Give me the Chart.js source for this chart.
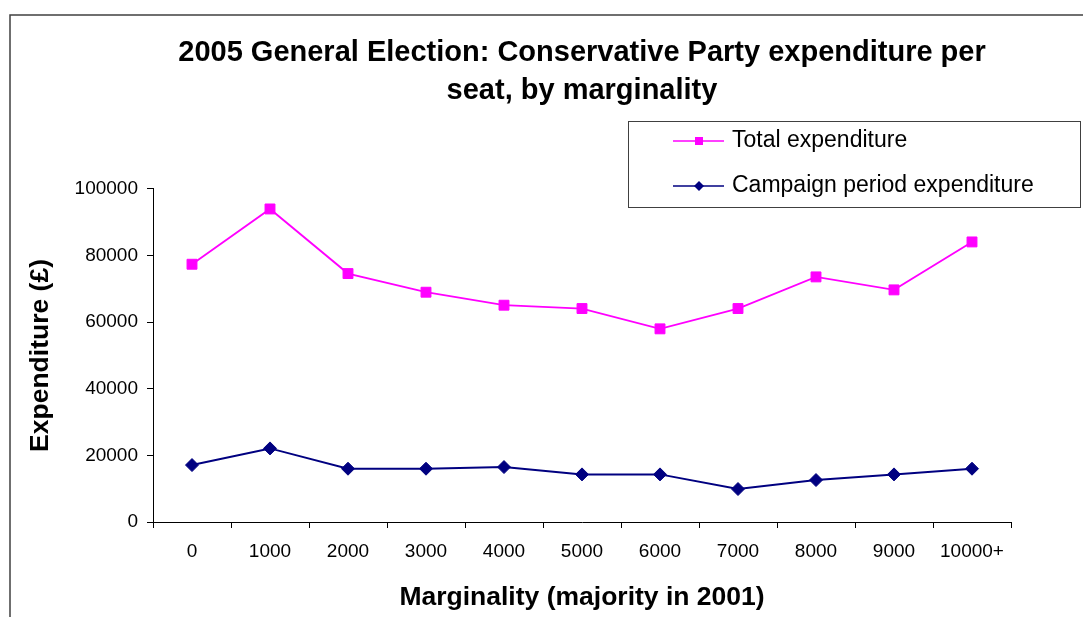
<!DOCTYPE html>
<html>
<head>
<meta charset="utf-8">
<script src="https://cdn.jsdelivr.net/npm/chart.js@4/dist/chart.umd.min.js"></script>
<style>
  html, body { margin: 0; padding: 0; background: #fff; }
  #wrap { width: 1083px; height: 617px; }
</style>
</head>
<body>
<div id="wrap"><canvas id="grafico" width="1083" height="617"></canvas></div>
<script>
// datos
const categorias = ['0', '1000', '2000', '3000', '4000', '5000', '6000', '7000', '8000', '9000', '10000+'];
const gastoTotal = [77400, 94000, 74600, 69000, 65100, 64100, 58000, 64100, 73600, 69700, 84100];
const gastoCampana = [17100, 22100, 16000, 16000, 16500, 14300, 14300, 9900, 12600, 14300, 16000];
const ticksY = [0, 20000, 40000, 60000, 80000, 100000];

const FUENTE = "'Liberation Sans', Arial, sans-serif";

// marco del grafico y leyenda dibujada a mano
const marcoLeyenda = {
    id: 'marcoLeyenda',
    beforeDraw(chart) {
        const ctx = chart.ctx;
        ctx.save();
        ctx.strokeStyle = '#404040';
        ctx.lineWidth = 1.5;
        ctx.strokeRect(10, 15, 1200, 800);
        ctx.restore();
    },
    afterDraw(chart) {
        const ctx = chart.ctx;
        ctx.save();
        ctx.fillStyle = '#fff';
        ctx.fillRect(628, 121, 452, 86);
        ctx.strokeStyle = '#404040';
        ctx.lineWidth = 1;
        ctx.strokeRect(628.5, 121.5, 452, 86);
        const filas = [141, 186];
        chart.data.datasets.forEach((ds, i) => {
            const y = filas[i];
            ctx.strokeStyle = ds.borderColor;
            ctx.lineWidth = 1.5;
            ctx.beginPath();
            ctx.moveTo(673, y);
            ctx.lineTo(724, y);
            ctx.stroke();
            ctx.fillStyle = ds.pointBackgroundColor;
            ctx.beginPath();
            if (ds.pointStyle === 'rect') {
                ctx.rect(695, y - 4, 8, 8);
            } else {
                ctx.moveTo(699, y - 5);
                ctx.lineTo(704, y);
                ctx.lineTo(699, y + 5);
                ctx.lineTo(694, y);
                ctx.closePath();
            }
            ctx.fill();
            ctx.fillStyle = '#000';
            ctx.font = '23px ' + FUENTE;
            ctx.textBaseline = 'middle';
            ctx.textAlign = 'left';
            ctx.fillText(ds.label, 732, y);
        });
        ctx.restore();
    }
};

const ctx = document.getElementById('grafico').getContext('2d');

new Chart(ctx, {
    type: 'line',
    data: {
        labels: categorias,
        datasets: [{
            label: 'Total expenditure',
            data: gastoTotal,
            borderColor: '#FF00FF',
            backgroundColor: '#FF00FF',
            pointBackgroundColor: '#FF00FF',
            pointBorderColor: '#FF00FF',
            borderWidth: 1.8,
            pointStyle: 'rect',
            pointRadius: 7,
            pointBorderWidth: 1,
            tension: 0
        }, {
            label: 'Campaign period expenditure',
            data: gastoCampana,
            borderColor: '#000080',
            backgroundColor: '#000080',
            pointBackgroundColor: '#000080',
            pointBorderColor: '#000080',
            borderWidth: 2,
            pointStyle: 'rectRot',
            pointRadius: 6.5,
            pointBorderWidth: 1,
            tension: 0
        }]
    },
    options: {
        responsive: false,
        animation: false,
        layout: { padding: { left: 0, right: 72, top: 0, bottom: 0 } },
        plugins: {
            legend: { display: false },
            tooltip: { enabled: false },
            title: {
                display: true,
                fullSize: false,
                text: ['2005 General Election: Conservative Party expenditure per', 'seat, by marginality'],
                color: '#000',
                font: { family: FUENTE, size: 29, weight: 'bold', lineHeight: 1.31 },
                padding: { top: 34, bottom: 79 }
            }
        },
        scales: {
            x: {
                offset: true,
                grid: { display: true, offset: true, drawOnChartArea: false, drawTicks: true, tickLength: 6, color: '#000' },
                border: { display: true, color: '#000', width: 1 },
                ticks: { color: '#000', font: { family: FUENTE, size: 19 }, padding: 12, maxRotation: 0, autoSkip: false },
                title: {
                    display: true,
                    text: 'Marginality (majority in 2001)',
                    color: '#000',
                    font: { family: FUENTE, size: 26.5, weight: 'bold' },
                    padding: { top: 0, bottom: 3 }
                },
                afterFit(scale) { scale.height = 95; }
            },
            y: {
                min: 0,
                max: 100000,
                afterBuildTicks(scale) { scale.ticks = ticksY.map(v => ({ value: v })); },
                grid: { display: true, drawOnChartArea: false, drawTicks: true, tickLength: 6, color: '#000' },
                border: { display: true, color: '#000', width: 1 },
                ticks: { color: '#000', font: { family: FUENTE, size: 19 }, padding: 9, callback: v => String(v) },
                title: {
                    display: true,
                    text: 'Expenditure (£)',
                    color: '#000',
                    font: { family: FUENTE, size: 26.5, weight: 'bold' },
                    padding: { top: 25, bottom: 0 }
                },
                afterFit(scale) { scale.width = 153; }
            }
        }
    },
    plugins: [marcoLeyenda]
});
</script>
</body>
</html>
